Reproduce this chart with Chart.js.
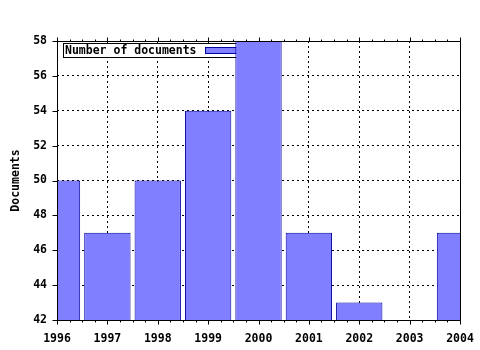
<!DOCTYPE html>
<html>
<head>
<meta charset="utf-8">
<script src="https://cdn.jsdelivr.net/npm/chart.js@4/dist/chart.umd.min.js"></script>
<style>
    html, body { margin: 0; padding: 0; background: #fff; }
    #wrap { width: 480px; height: 350px; }
</style>
</head>
<body>
<div id="wrap"><canvas id="docsChart" width="480" height="350"></canvas></div>
<script>
const years = [1996, 1997, 1998, 1999, 2000, 2001, 2002, 2003, 2004]
const documents = [50, 47, 50, 54, 58, 47, 43, null, 47]
const seriesLabel = 'Number of documents'
const yTitle = 'Documents'

const monoFont = 'DejaVu Sans Mono'

// legend box drawn inside the plot, under the bars
const boxLegend = {
    id: 'boxLegend',
    beforeDatasetsDraw(chart) {
        const ctx = chart.ctx
        const area = chart.chartArea
        const x = Math.round(area.left) + 6
        const y = Math.round(area.top) + 2
        ctx.save()
        ctx.font = 'bold 11.5px ' + monoFont
        const w = ctx.measureText(seriesLabel).width
        ctx.fillStyle = '#fff'
        ctx.fillRect(x, y, w + 50, 14)
        ctx.strokeStyle = '#000'
        ctx.lineWidth = 1
        ctx.strokeRect(x + 0.5, y + 0.5, w + 50, 14)
        ctx.fillStyle = '#000'
        ctx.textBaseline = 'middle'
        ctx.fillText(seriesLabel, x + 2, y + 8)
        const sx = Math.round(x + w + 10)
        ctx.fillStyle = '#7f7fff'
        ctx.fillRect(sx, y + 4, 34, 6)
        ctx.strokeStyle = '#0000a0'
        ctx.strokeRect(sx + 0.5, y + 4.5, 34, 6)
        ctx.restore()
    }
}

// solid frame plus small tick marks
const frameTicks = {
    id: 'frameTicks',
    afterDraw(chart) {
        const ctx = chart.ctx
        const area = chart.chartArea
        const xs = chart.scales.x
        const ys = chart.scales.y
        const l = Math.round(area.left) + 0.5
        const r = Math.round(area.right) + 0.5
        const t = Math.round(area.top) + 0.5
        const b = Math.round(area.bottom) + 0.5
        ctx.save()
        ctx.strokeStyle = '#000'
        ctx.lineWidth = 1
        ctx.beginPath()
        ctx.moveTo(l, t)
        ctx.lineTo(r, t)
        ctx.lineTo(r, b)
        ctx.lineTo(l, b)
        ctx.closePath()
        for (let v = years[0]; v <= years[years.length - 1] + 0.001; v += 0.25) {
            const px = Math.round(xs.getPixelForValue(v)) + 0.5
            const major = Math.abs(v - Math.round(v)) < 0.01
            const len = major ? 4 : 2
            ctx.moveTo(px, t)
            ctx.lineTo(px, t - len)
            ctx.moveTo(px, b)
            ctx.lineTo(px, b + len)
        }
        for (let v = 42; v <= 58; v += 2) {
            const py = Math.round(ys.getPixelForValue(v)) + 0.5
            ctx.moveTo(l, py)
            ctx.lineTo(l - 5, py)
        }
        ctx.stroke()
        ctx.restore()
    }
}

const ctx = document.getElementById('docsChart')
new Chart(ctx, {
    type: 'bar',
    data: {
        datasets: [{
            label: seriesLabel,
            data: years.map((yr, i) => ({ x: yr, y: documents[i] })),
            backgroundColor: '#7f7fff',
            borderColor: '#0000a0',
            borderWidth: 1,
            borderSkipped: 'start',
            categoryPercentage: 1,
            barPercentage: 0.92,
            clip: 0,
        }],
    },
    options: {
        responsive: false,
        animation: false,
        layout: { padding: { top: 41, right: 20, left: 0, bottom: 0 } },
        plugins: {
            legend: { display: false },
            tooltip: { enabled: false },
        },
        scales: {
            x: {
                type: 'linear',
                min: 1996,
                max: 2004,
                offset: false,
                afterFit: (scale) => {
                    scale.height = 30
                    scale.paddingLeft = 0
                    scale.paddingRight = 0
                },
                ticks: {
                    stepSize: 1,
                    color: '#000',
                    padding: 12,
                    maxRotation: 0,
                    font: { family: monoFont, weight: 'bold', size: 11.5 },
                    callback: (v) => String(v),
                },
                grid: {
                    color: '#000',
                    lineWidth: 1,
                    drawTicks: false,
                    offset: false,
                },
                border: { display: false, dash: [2, 3] },
            },
            y: {
                min: 42,
                max: 58,
                afterFit: (scale) => {
                    scale.width = 57
                    scale.paddingTop = 0
                    scale.paddingBottom = 0
                },
                ticks: {
                    stepSize: 2,
                    color: '#000',
                    padding: 10,
                    font: { family: monoFont, weight: 'bold', size: 11.5 },
                },
                grid: {
                    color: '#000',
                    lineWidth: 1,
                    drawTicks: false,
                },
                border: { display: false, dash: [2, 3] },
                title: {
                    display: true,
                    text: yTitle,
                    color: '#000',
                    padding: { top: 9, bottom: 0 },
                    font: { family: monoFont, weight: 'bold', size: 11.5 },
                },
            },
        },
    },
    plugins: [boxLegend, frameTicks],
})
</script>
</body>
</html>
